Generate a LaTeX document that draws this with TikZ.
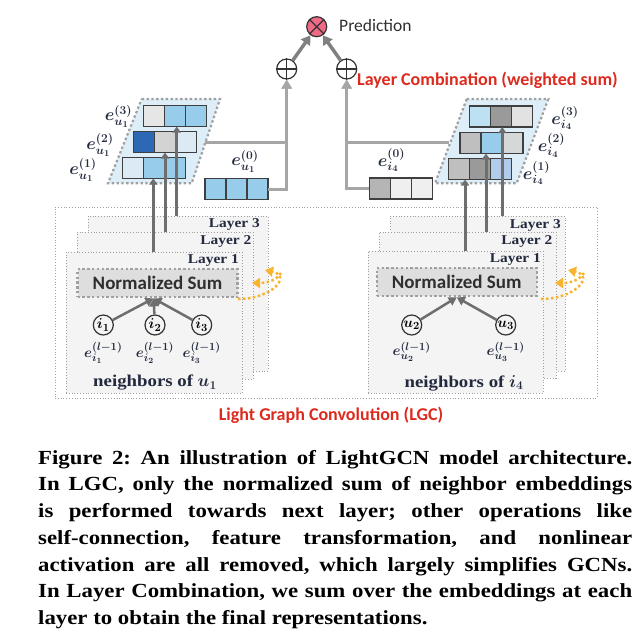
\documentclass[tikz,border=0pt]{standalone}
\usepackage{fontspec}
\setmainfont{Liberation Serif}
\newfontfamily\capfont{Liberation Serif}[FakeStretch=1.14]
\newfontfamily\sansfnt{Carlito}
\usetikzlibrary{arrows.meta,positioning,fit}

\definecolor{combgray}{HTML}{A6A6A6}
\definecolor{predgray}{HTML}{808080}
\definecolor{upgray}{HTML}{6E6E6E}
\definecolor{celline}{HTML}{3F3F3F}
\definecolor{darkline}{HTML}{333333}
\definecolor{dotgray}{HTML}{A0A0A0}
\definecolor{layerfill}{HTML}{F4F4F4}
\definecolor{sumfill}{HTML}{DEDEDE}
\definecolor{platefill}{HTML}{DDEEF8}
\definecolor{lgcred}{HTML}{DD2A1E}
\definecolor{looporange}{HTML}{F8B330}
\definecolor{navy}{HTML}{232A3E}
\definecolor{textgray}{HTML}{2F2F2F}
\definecolor{timespink}{HTML}{F06A85}
% embedding cell colours
\definecolor{lgray}{HTML}{E6E6E6}
\definecolor{lblue}{HTML}{97CDEB}
\definecolor{dblue}{HTML}{2C68B4}
\definecolor{mgray}{HTML}{D3D3D3}
\definecolor{pblue}{HTML}{DCEAF6}
\definecolor{sky}{HTML}{BEE0F3}
\definecolor{dgray}{HTML}{9A9A9A}
\definecolor{lgrayb}{HTML}{E2E2E2}
\definecolor{gray2}{HTML}{BFBFBF}
\definecolor{lgrayc}{HTML}{D6D8D8}
\definecolor{sblue}{HTML}{B0CCEA}
\definecolor{gray3}{HTML}{B5B5B5}
\definecolor{vlgray}{HTML}{EFEFEF}

% one embedding: three cells side by side
\newcommand{\embrow}[4]{%
  \foreach \c [count=\k] in {#4}
    \node[cell, fill=\c] (#1-\k) at ({#2+(\k-1)*21}, #3) {};
}

\begin{document}
\frenchspacing
\begin{tikzpicture}[x=1pt,y=-1pt]
		\tikzset{cell/.style={draw=celline,line width=1.3pt,minimum width=21pt,minimum height=21pt,inner sep=0pt,outer sep=0pt}}
		\tikzset{plate/.style={fill=platefill,draw=dotgray,line width=2.2pt,dash pattern=on 2.4pt off 2.4pt}}
		\tikzset{layerbox/.style={inner sep=0pt,fill=layerfill,draw=dotgray,line width=0.8pt,dotted}}
		\tikzset{sumbox/.style={fill=sumfill,draw=dotgray,line width=2.2pt,dash pattern=on 2.4pt off 2.4pt,minimum width=160pt,minimum height=28pt,inner sep=0pt,text=textgray,font=\sansfnt\bfseries\fontsize{19}{21}\selectfont}}
		\tikzset{sumnode/.style={circle,draw=darkline,fill=white,line width=1.2pt,minimum size=20pt,inner sep=0pt}}
		\tikzset{nb/.style={circle,draw=darkline,line width=1.2pt,minimum size=20pt,inner sep=0pt,font=\fontsize{15}{15}\selectfont\boldmath}}
		\tikzset{emblabel/.style={inner sep=0pt,text=navy,font=\fontsize{18}{18}\selectfont\boldmath}}
		\tikzset{nblabel/.style={inner sep=0pt,text=navy,font=\fontsize{15.5}{15.5}\selectfont\boldmath}}
		\tikzset{layertext/.style={anchor=east,inner sep=0pt,text=navy,font=\capfont\bfseries\fontsize{13.5}{15}\selectfont}}
		\tikzset{serifnote/.style={inner sep=0pt,text=navy,font=\capfont\bfseries\fontsize{16.5}{18}\selectfont\boldmath}}
		\tikzset{redlabel/.style={inner sep=0pt,text=lgcred,font=\sansfnt\bfseries\fontsize{18}{20}\selectfont}}
		\tikzset{combline/.style={draw=combgray,line width=3pt,-{Triangle[length=9pt,width=10pt]}}}
		\tikzset{predline/.style={draw=predgray,line width=3.5pt,-{Triangle[length=9pt,width=11pt]}}}
		\tikzset{upline/.style={draw=upgray,line width=3pt,-{Triangle[length=6pt,width=8pt]}}}
		\tikzset{nbline/.style={draw=upgray,line width=2.5pt,-{Triangle[length=8pt,width=9pt]}}}
		\tikzset{loopline/.style={draw=looporange,line width=2.5pt,dash pattern=on 2.5pt off 2.5pt,-{Triangle[length=8pt,width=10pt]}}}
		\useasboundingbox (0,0) rectangle (642,632);
		% prediction and layer combination
		\node[circle,fill=timespink,draw=darkline,line width=1.2pt,minimum size=20pt,inner sep=0pt] (times) at (316.7,26.7) {};
		\draw[darkline,line width=1.2pt] (times.north west) -- (times.south east) (times.north east) -- (times.south west);
		\node[anchor=west,inner sep=0pt,text=textgray,font=\sansfnt\fontsize{17.5}{20}\selectfont] (pred) at (339,25) {Prediction};
		\node[sumnode] (plusL) at (286.7,69) {};
		\node[sumnode] (plusR) at (346.7,69) {};
		\foreach \p in {plusL,plusR}
		   \draw[darkline,line width=1.2pt] (\p.north) -- (\p.south) (\p.west) -- (\p.east);
		\node[redlabel,anchor=west] (comb) at (357,80) {Layer Combination (weighted sum)};
		\draw[predline] (plusL) -- (times);
		\draw[predline] (plusR) -- (times);
		% layer embeddings
		\draw[plate] (141.7,99) -- (220,99) -- (191.7,183.3) -- (108,183.3) -- cycle;
		\draw[plate] (466.7,99) -- (548.3,99) -- (516.7,183.3) -- (435,183.3) -- cycle;
		\embrow{u3}{153.8}{116}{lgray,lblue,lblue}
		\embrow{u2}{143.8}{142}{dblue,mgray,pblue}
		\embrow{u1}{133.2}{168}{pblue,lblue,lblue}
		\embrow{u0}{215.4}{189}{lblue,lblue,lblue}
		\embrow{i3}{479.8}{116.5}{sky,dgray,lgrayb}
		\embrow{i2}{470.5}{143}{gray2,lblue,lgrayc}
		\embrow{i1}{458.8}{169}{gray2,dgray,sblue}
		\embrow{i0}{379.7}{188.5}{gray3,vlgray,vlgray}
		\node[emblabel] (lu3) at (118.5,116.5) {$e_{u_1}^{(3)}$};
		\node[emblabel] (lu2) at (100,145) {$e_{u_1}^{(2)}$};
		\node[emblabel] (lu1) at (83,170) {$e_{u_1}^{(1)}$};
		\node[emblabel] (lu0) at (245,161.5) {$e_{u_1}^{(0)}$};
		\node[emblabel] (li3) at (565,118) {$e_{i_4}^{(3)}$};
		\node[emblabel] (li2) at (551.5,145.5) {$e_{i_4}^{(2)}$};
		\node[emblabel] (li1) at (536.5,173) {$e_{i_4}^{(1)}$};
		\node[emblabel] (li0) at (391.5,160) {$e_{i_4}^{(0)}$};
		\coordinate (uedge) at (205.3,142.7);
		\coordinate (iedge) at (449,142.7);
		\draw[combline] (uedge) -| (plusL.south);
		\draw[combline] (u0-3.east) -| (plusL.south);
		\draw[combline] (iedge) -| (plusR.south);
		\draw[combline] (i0-1.west) -| (plusR.south);
		% light graph convolution
		\node[fit={(55,207) (597,398)},inner sep=0pt,draw=dotgray,line width=0.8pt,dotted] (lgc) {};
		\node[layerbox,fit={(88,216) (268,371)}] (uL3) {};
		\node[layerbox,fit={(77,232) (253,379)}] (uL2) {};
		\node[layerbox,fit={(66,252) (242,393)}] (uL1) {};
		\node[layerbox,fit={(390,216) (565,371)}] (iL3) {};
		\node[layerbox,fit={(379,232) (556,378)}] (iL2) {};
		\node[layerbox,fit={(368,251) (543,393)}] (iL1) {};
		\node[layertext] (tu3) at (260,224.5) {Layer 3};
		\node[layertext] (tu2) at (251.5,241) {Layer 2};
		\node[layertext] (tu1) at (239,260) {Layer 1};
		\node[layertext] (ti3) at (561,225) {Layer 3};
		\node[layertext] (ti2) at (552.5,241) {Layer 2};
		\node[layertext] (ti1) at (541,259.5) {Layer 1};
		\node[sumbox] (nsL) at (157.5,283.3) {Normalized Sum};
		\node[sumbox] (nsR) at (456.7,282.2) {Normalized Sum};
		\node[nb] (ni1) at (103.3,325) {$i_1$};
		\node[nb] (ni2) at (155,325) {$i_2$};
		\node[nb] (ni3) at (201.7,325) {$i_3$};
		\node[nb] (nu2) at (411.7,325) {$u_2$};
		\node[nb] (nu3) at (505.7,325) {$u_3$};
		\foreach \n in {ni1,ni2,ni3}
		   \draw[nbline] (\n) -- ([xshift=-4pt]nsL.south);
		\foreach \n in {nu2,nu3}
		   \draw[nbline] (\n) -- (nsR.south);
		\node[nblabel,below=6pt of ni1] (ei1) {$e_{i_1}^{(l-1)}$};
		\node[nblabel,below=6pt of ni2] (ei2) {$e_{i_2}^{(l-1)}$};
		\node[nblabel,below=6pt of ni3] (ei3) {$e_{i_3}^{(l-1)}$};
		\node[nblabel,below=6pt of nu2] (eu2) {$e_{u_2}^{(l-1)}$};
		\node[nblabel,below=6pt of nu3] (eu3) {$e_{u_3}^{(l-1)}$};
		\node[serifnote] (nbu) at (155,383) {neighbors of $u_1$};
		\node[serifnote] (nbi) at (464,383) {neighbors of $i_4$};
		% recursion over layers
		\foreach \s in {0,303}{
		   \begin{scope}[xshift=\s]
		      \draw[loopline] (238,299) .. controls (272,299) and (292,276) .. (265,270);
		      \draw[loopline] (281,273) .. controls (276,281) and (266,283) .. (252,283);
		   \end{scope}}
		% layer outputs up to the embeddings
		\coordinate (ux1) at (153.3,0);
		\coordinate (ux2) at (165,0);
		\coordinate (ux3) at (176.7,0);
		\coordinate (ix1) at (465,0);
		\coordinate (ix2) at (486,0);
		\coordinate (ix3) at (502.3,0);
		\draw[upline] (ux1 |- uL1.north) -- (ux1 |- u1-1.south);
		\draw[upline] (ux2 |- uL2.north) -- (ux2 |- u2-1.south);
		\draw[upline] (ux3 |- uL3.north) -- (ux3 |- u3-1.south);
		\draw[upline] (ix1 |- iL1.north) -- (ix1 |- i1-1.south);
		\draw[upline] (ix2 |- iL2.north) -- (ix2 |- i2-1.south);
		\draw[upline] (ix3 |- iL3.north) -- (ix3 |- i3-1.south);
		\node[redlabel] (lgclabel) at (331,415) {Light Graph Convolution (LGC)};
		% caption
		\node[anchor=north west,inner sep=0pt,text width=594pt,align=justify,font=\capfont\bfseries\fontsize{20}{26.7}\selectfont] (caption) at (38,450)
		   {Figure 2: An illustration of LightGCN model architecture.\linebreak
		    In LGC, only the normalized sum of neighbor embeddings\linebreak
		    is performed towards next layer; other operations like\linebreak
		    self-connection, feature transformation, and nonlinear\linebreak
		    activation are all removed, which largely simplifies GCNs.\linebreak
		    In Layer Combination, we sum over the embeddings at each\linebreak
		    layer to obtain the final representations.};
\end{tikzpicture}
\end{document}
